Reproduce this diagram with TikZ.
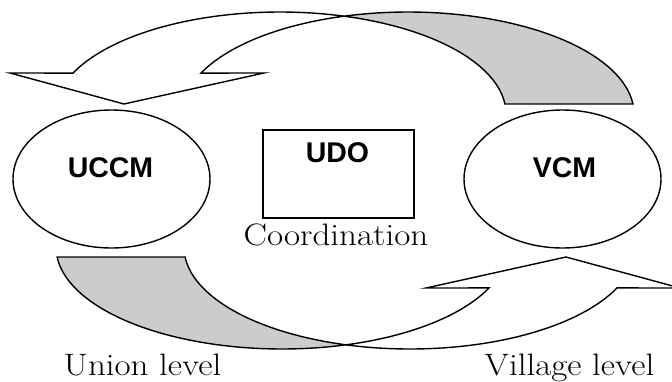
\documentclass[tikz,border=0pt]{standalone}
\usepackage{fontspec}
\usepackage{graphicx}
\newfontfamily\labfont{Liberation Sans}
\usetikzlibrary{shapes.geometric}
\newcommand\widetext[1]{\scalebox{1.13}[1]{#1}}
\tikzset{
  outline/.style={draw=black, line width=1.4pt, line join=miter},
  frontpart/.style={outline, fill=white},
  backpart/.style={outline, fill=gray!40},
  oval/.style={ellipse, draw, line width=1.4pt, minimum width=197pt, minimum height=138pt, inner sep=0pt},
  udobox/.style={rectangle, draw, line width=1.4pt, minimum width=151pt, minimum height=88pt, inner sep=0pt},
  boldlab/.style={anchor=base, inner sep=0pt, font=\labfont\bfseries\fontsize{28.5}{30}\selectfont},
  seriflab/.style={anchor=base, inner sep=0pt, font=\fontsize{31}{33}\selectfont},
}
\begin{document}
\begin{tikzpicture}[x=1pt,y=-1pt]
\useasboundingbox (0,0) rectangle (672,381);
\clip (0,0) rectangle (672,381);
% curved block arrows (the lower one is the upper one turned by 180 degrees)
\foreach \r in {0,180}{
  \begin{scope}[rotate around={\r:(345,180.5)}]
    \draw[frontpart] plot[domain=203.65:286.45,samples=60] ({280+226*cos(\x)},{114+102*sin(\x)})
      -- plot[domain=253.55:203.65,samples=60] ({408+226*cos(\x)},{114+102*sin(\x)})
      -- (264,73) -- (124,104) -- (10,73) -- cycle;
    \draw[backpart] plot[domain=253.55:354.37,samples=60] ({408+226*cos(\x)},{114+102*sin(\x)})
      -- plot[domain=354.37:286.45,samples=60] ({280+226*cos(\x)},{114+102*sin(\x)})
      -- cycle;
  \end{scope}
}
% ellipses and box
\node[oval] (uccm) at (111.5,179) {};
\node[oval] (vcm) at (562.5,179) {};
\node[udobox] (udo) at (338.5,174) {};
% labels
\node[boldlab] (uccmtext) at (110.5,177) {UCCM};
\node[boldlab] (vcmtext) at (564.5,177) {VCM};
\node[boldlab] (udotext) at (337.5,162) {UDO};
\node[seriflab] (coord) at (336,245) {\widetext{Coordination}};
\node[seriflab] (union) at (142.5,375) {\widetext{Union level}};
\node[seriflab] (village) at (569.5,375) {\widetext{Village level}};
\end{tikzpicture}
\end{document}
